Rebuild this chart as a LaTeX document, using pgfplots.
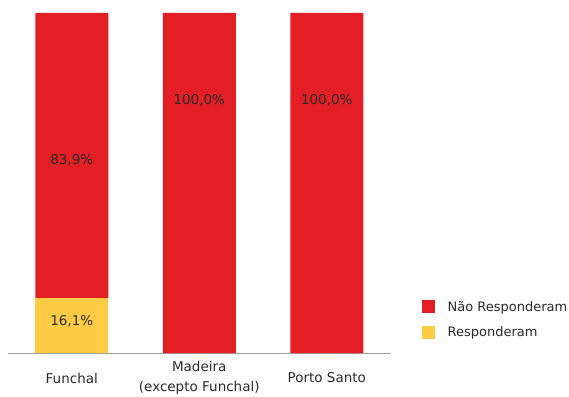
\documentclass[border=0pt]{standalone}
\usepackage{pgfplots}
\pgfplotsset{compat=1.18}
\usepackage{fontspec}
\setmainfont{DejaVu Sans}
\definecolor{cred}{HTML}{E31E24}
\definecolor{cyel}{HTML}{FFCC44}
\definecolor{cgray}{HTML}{A0A0A0}
\definecolor{ctext}{HTML}{2A2A2A}
\begin{document}
\begin{tikzpicture}[x=1pt,y=1pt]
\path[use as bounding box] (0,0) rectangle (569,396);
\begin{axis}[
  at={(8pt,43pt)}, anchor=south west,
  scale only axis, width=382.5pt, height=340pt,
  xmin=-0.5, xmax=2.5, ymin=0, ymax=100,
  ybar stacked, bar width=73pt,
  axis y line=none,
  axis x line*=bottom,
  x axis line style={cgray, line width=1pt, -},
  xtick={0,1,2}, major tick length=0pt,
  xticklabels={Funchal, Madeira\\(excepto Funchal), Porto Santo},
  xticklabel style={anchor=center, yshift=-25pt, align=center,
    font=\fontsize{13.5}{19.5}\selectfont, text=ctext},
  reverse legend,
  legend style={at={(1.082,0.0985)}, anchor=west, draw=none, fill=none,
    font=\fontsize{13}{15}\selectfont, text=ctext,
    row sep=10pt, inner sep=0pt,
    /tikz/every odd column/.append style={column sep=10.5pt}},
  legend cell align=left,
  legend image code/.code={\fill[#1] (0pt,-6.5pt) rectangle (13pt,6.5pt);},
  clip=false,
]
\addplot[draw=none, fill=cyel] coordinates {(0,16.1) (1,0) (2,0)};
\addlegendentry{Responderam}
\addplot[draw=none, fill=cred] coordinates {(0,83.9) (1,100) (2,100)};
\addlegendentry{Não Responderam}
\coordinate (l1) at (axis cs:0,9.2);
\coordinate (l2) at (axis cs:0,56.6);
\coordinate (l3) at (axis cs:1,74.2);
\coordinate (l4) at (axis cs:2,74.2);
\end{axis}
\begin{scope}[every node/.style={font=\fontsize{13.5}{15}\selectfont, text=ctext}]
\node at (l1) {16,1\%};
\node at (l2) {83,9\%};
\node at (l3) {100,0\%};
\node at (l4) {100,0\%};
\end{scope}
\end{tikzpicture}
\end{document}
